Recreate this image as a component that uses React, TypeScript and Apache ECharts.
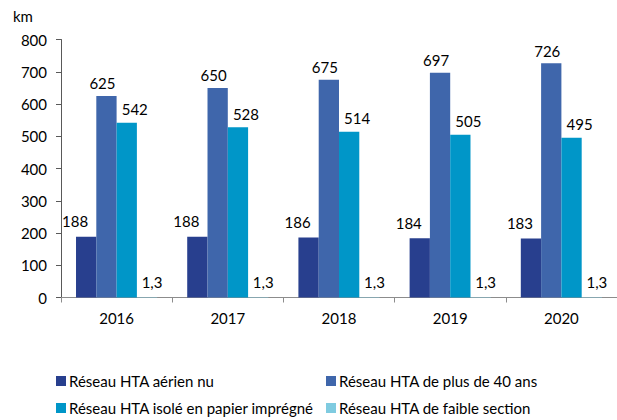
import React, { useEffect, useRef } from "react";
import * as echarts from "echarts";

const years = ["2016", "2017", "2018", "2019", "2020"];
const seriesNames = [
  "Réseau HTA aérien nu",
  "Réseau HTA de plus de 40 ans",
  "Réseau HTA isolé en papier imprégné",
  "Réseau HTA de faible section",
];
const aerienNu = [188, 188, 186, 184, 183];
const plus40 = [625, 650, 675, 697, 726];
const papier = [542, 528, 514, 505, 495];
const faible = [1.3, 1.3, 1.3, 1.3, 1.3];
const yTicks = { min: 0, max: 800, interval: 100 };

const colors = ["#283F8E", "#3F66AB", "#0096C8", "#7FCBE0"];
const labelOffsets = [-11, -4, 8, 5];
const labelDistances = [8, 5, 6, 8];

const FONT = "Lato, 'Noto Sans', sans-serif";
const FS = 15;

export default function App() {
  const ref = useRef<HTMLDivElement>(null);
  useEffect(() => {
    if (!ref.current) return;
    const chart = echarts.init(ref.current, undefined, { renderer: "svg" });
    const values = [aerienNu, plus40, papier, faible];
    const legendBase = {
      orient: "vertical",
      top: 373,
      height: 47,
      padding: 0,
      itemWidth: 10,
      itemHeight: 10,
      itemGap: 11,
      icon: "rect",
      textStyle: { fontSize: FS, fontFamily: FONT, color: "#000", lineHeight: 16, padding: [0, 0, 0, -2] },
    };
    chart.setOption({
      animation: false,
      textStyle: { fontFamily: FONT },
      grid: { left: 61, right: -2, top: 39.5, bottom: 122.5 },
      graphic: [
        {
          type: "text",
          left: 13,
          top: 8,
          style: { text: "km", fontSize: FS, fontFamily: FONT, fill: "#000" },
        },
      ],
      legend: [
        { ...legendBase, data: [seriesNames[0], seriesNames[2]], left: 56 },
        { ...legendBase, data: [seriesNames[1], seriesNames[3]], left: 326 },
      ],
      xAxis: {
        type: "category",
        data: years,
        axisLine: { lineStyle: { color: "#8C8C8C", width: 1 } },
        axisTick: { show: true, length: 5, alignWithLabel: false, lineStyle: { color: "#8C8C8C" } },
        axisLabel: { fontSize: FS, color: "#000", margin: 13, fontFamily: FONT },
      },
      yAxis: {
        type: "value",
        min: yTicks.min,
        max: yTicks.max,
        interval: yTicks.interval,
        splitLine: { show: false },
        axisLine: { show: true, lineStyle: { color: "#595959", width: 1 } },
        axisTick: { show: true, length: 5, lineStyle: { color: "#595959" } },
        axisLabel: { fontSize: FS, color: "#000", margin: 14, fontFamily: FONT },
      },
      series: seriesNames.map((name, i) => ({
        name,
        type: "bar",
        data: values[i],
        barGap: "0%",
        barCategoryGap: "27%",
        itemStyle: { color: colors[i] },
        label: {
          show: true,
          position: "top",
          distance: labelDistances[i],
          offset: [labelOffsets[i], 0],
          fontSize: FS,
          color: "#000",
          fontFamily: FONT,
          formatter: (p: any) => String(p.value).replace(".", ","),
        },
      })),
    });
    return () => chart.dispose();
  }, []);
  return (
    <div
      ref={ref}
      style={{ position: "fixed", left: 0, top: 0, width: 617, height: 420, background: "#fff" }}
    />
  );
}
